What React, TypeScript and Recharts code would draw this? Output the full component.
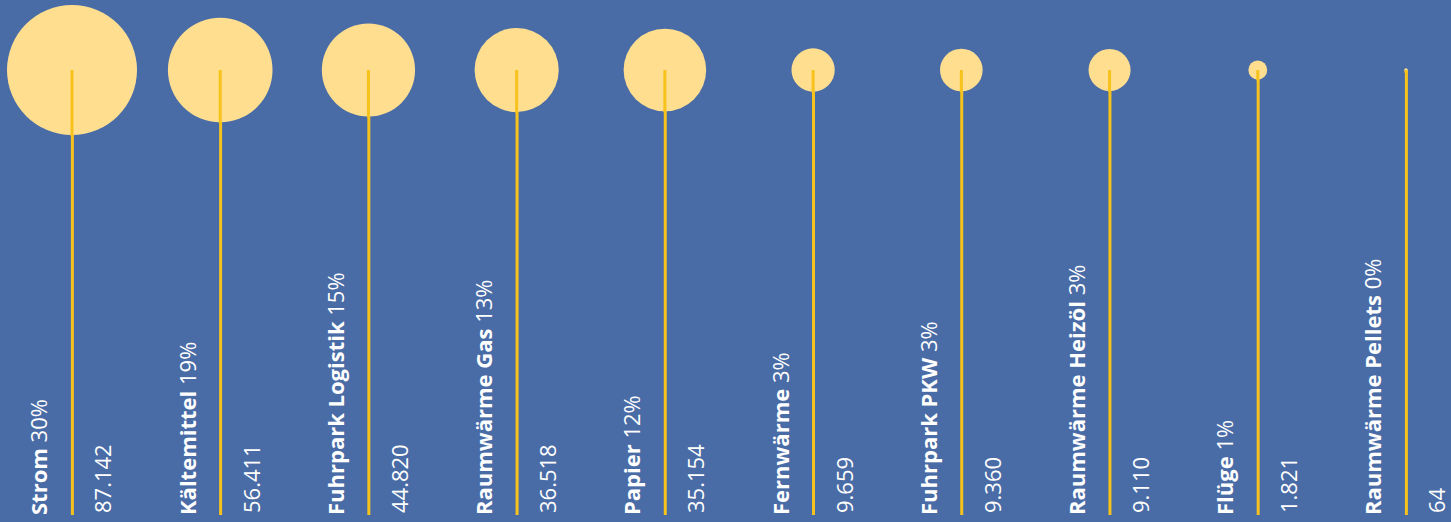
import React from 'react';
import {
  ComposedChart,
  Bar,
  Scatter,
  XAxis,
  YAxis,
  ZAxis,
  LabelList,
} from 'recharts';

const categories = [
  'Strom',
  'Kältemittel',
  'Fuhrpark Logistik',
  'Raumwärme Gas',
  'Papier',
  'Fernwärme',
  'Fuhrpark PKW',
  'Raumwärme Heizöl',
  'Flüge',
  'Raumwärme Pellets',
];
const emissions = [87142, 56411, 44820, 36518, 35154, 9659, 9360, 9110, 1821, 64];
const shares = [30, 19, 15, 13, 12, 3, 3, 3, 1, 0];

const BG = '#4a6ca6';
const BUBBLE = '#ffdf8f';
const STEM = '#f7c21c';
const FONT = '"Open Sans", sans-serif';

const fmt = (n: number) => String(n).replace(/\B(?=(\d{3})+(?!\d))/g, '.');

const data = categories.map((name, i) => ({
  idx: i,
  name,
  value: emissions[i],
  share: shares[i],
  top: 1,
  stem: 1,
}));

const maxValue = Math.max(...emissions);
const maxRadius = 65;

// bubble plus the piece of stem that sits on top of it
function Bubble(props: any) {
  const { cx, cy, width, size } = props;
  const r = size != null ? Math.sqrt(size / Math.PI) : width / 2;
  return (
    <g>
      <circle cx={cx} cy={cy} r={r} fill={BUBBLE} />
      <line x1={cx} y1={cy} x2={cx} y2={cy + r + 1} stroke={STEM} strokeWidth={3} />
    </g>
  );
}

function NameLabel(props: any) {
  const { x, y, width, height, index } = props;
  const cx = x + width / 2;
  const bottom = y + height;
  const tx = cx - 25;
  return (
    <text
      x={tx}
      y={bottom}
      transform={`rotate(-90 ${tx} ${bottom})`}
      fill="#ffffff"
      fontFamily={FONT}
      fontSize={22}
      textAnchor="start"
    >
      <tspan fontWeight={700}>{categories[index]}</tspan>
      <tspan fontWeight={400}>{` ${shares[index]}%`}</tspan>
    </text>
  );
}

function ValueLabel(props: any) {
  const { x, y, width, height, index } = props;
  const cx = x + width / 2;
  const bottom = y + height;
  const tx = cx + 39;
  return (
    <text
      x={tx}
      y={bottom - 2}
      transform={`rotate(-90 ${tx} ${bottom - 2})`}
      fill="#ffffff"
      fontFamily={FONT}
      fontSize={22}
      fontWeight={400}
      textAnchor="start"
    >
      {fmt(emissions[index])}
    </text>
  );
}

export default function App() {
  return (
    <div style={{ width: 1451, height: 522, background: BG }}>
      <style>{'body{margin:0}'}</style>
      <ComposedChart
        width={1451}
        height={522}
        data={data}
        margin={{ top: 70, right: 45, bottom: 7, left: 72 }}
      >
        <XAxis dataKey="idx" type="number" domain={[0, 9]} hide />
        <YAxis type="number" domain={[0, 1]} hide />
        <ZAxis
          dataKey="value"
          type="number"
          domain={[0, maxValue]}
          range={[0, Math.PI * maxRadius * maxRadius]}
        />
        <Bar dataKey="stem" fill={STEM} barSize={3} isAnimationActive={false}>
          <LabelList dataKey="stem" content={<NameLabel />} />
          <LabelList dataKey="stem" content={<ValueLabel />} />
        </Bar>
        <Scatter dataKey="top" shape={<Bubble />} isAnimationActive={false} />
      </ComposedChart>
    </div>
  );
}
